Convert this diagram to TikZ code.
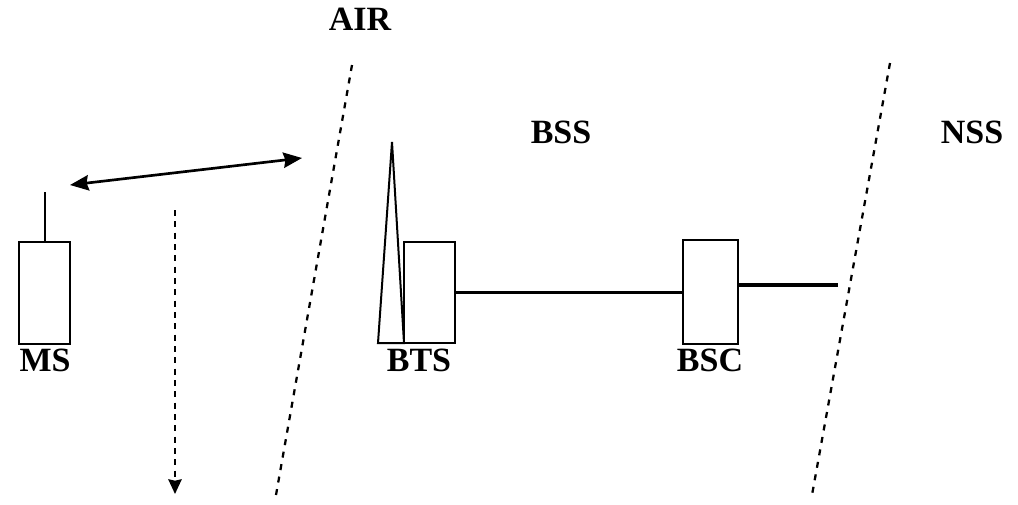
\documentclass[tikz,border=0pt]{standalone}
\usepackage{fontspec}
\setmainfont{Liberation Serif}
\usetikzlibrary{arrows.meta}
\begin{document}
\begin{tikzpicture}[x=0.75pt,y=-0.75pt,
  box/.style={draw,line width=1.5pt,inner sep=0pt,outer sep=0pt,minimum width=#1},
  lbl/.style={font=\fontsize{25.5}{28}\selectfont\bfseries,inner sep=0pt,anchor=base},
  link/.style={line width=2.4pt},
  border/.style={line width=1.7pt,dash pattern=on 4.5pt off 5pt},
  head/.tip={Stealth[length=14pt,width=11.5pt,inset=1.5pt]},
  tip/.style={-{Stealth[length=11pt,width=10pt,inset=1pt]}}
]
\useasboundingbox (0,0) rectangle (1018,504);
% MS
\node[box=38.25pt,minimum height=76.5pt] (ms) at (44.5,293) {};
\coordinate (msant) at (44.5,192);
\draw[line width=1.5pt] (ms.north) -- (msant);
\node[lbl] (mslbl) at (45,371) {MS};
% BTS
\node[box=38.25pt,minimum height=75.75pt] (bts) at (429.5,292.5) {};
\coordinate (apex) at (392,142);
\coordinate (tl) at (378,343);
\draw[line width=1.5pt,line join=miter] (tl) -- (apex) -- (bts.south west) -- cycle;
\node[lbl] (btslbl) at (419,371) {BTS};
% BSC
\node[box=41.25pt,minimum height=78pt] (bsc) at (710.5,292) {};
\node[lbl] (bsclbl) at (710,371) {BSC};
\coordinate (nssend) at (838,285);
\draw[link] (bts.east) -- (bsc.west |- bts.east);
\draw[link] (bsc.east |- nssend) -- (nssend);
% region labels
\node[lbl] (air) at (360,30) {AIR};
\node[lbl] (bss) at (561,143) {BSS};
\node[lbl] (nss) at (972,143) {NSS};
% dashed borders
\coordinate (a1) at (352,65); \coordinate (a2) at (276,495);
\coordinate (n1) at (890,63); \coordinate (n2) at (812,495);
\draw[border] (a1) -- (a2);
\draw[border] (n1) -- (n2);
% air arrows
\coordinate (dl) at (70,185); \coordinate (dr) at (302,158);
\draw[line width=2pt,head-head] (dl) -- (dr);
\coordinate (v1) at (175,210); \coordinate (v2) at (175,494);
\draw[line width=1.6pt,dash pattern=on 4.5pt off 4pt,tip] (v1) -- (v2);
\end{tikzpicture}
\end{document}
